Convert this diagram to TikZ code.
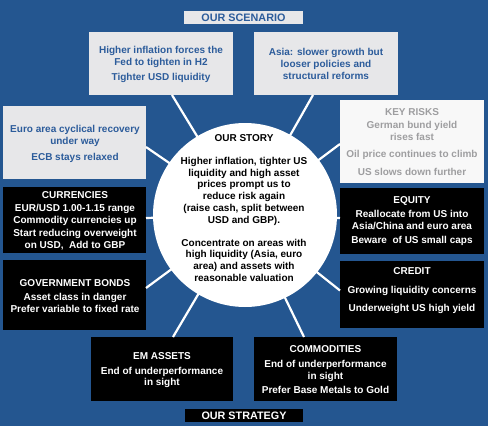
\documentclass[tikz,border=0pt]{standalone}
\usepackage{fontspec}
\setmainfont{Liberation Sans}
\usetikzlibrary{calc}
\definecolor{bg}{RGB}{36,86,144}
\definecolor{lightbox}{RGB}{231,231,233}
\definecolor{bluetxt}{RGB}{44,92,155}
\definecolor{riskfill}{RGB}{248,248,248}
\definecolor{risktxt}{RGB}{158,158,160}
\tikzset{
  boxbase/.style={rectangle, inner sep=0pt, outer sep=0pt, draw=none},
  greybox/.style={boxbase, fill=lightbox},
  riskbox/.style={boxbase, fill=riskfill},
  blackbox/.style={boxbase, fill=black},
  txt/.style={align=center, inner sep=0pt, font=\fontsize{10}{12.5}\selectfont\bfseries},
  bluet/.style={txt, text=bluetxt},
  whitet/.style={txt, text=white},
  riskt/.style={txt, text=risktxt},
  titlet/.style={align=center, inner sep=0pt, font=\fontsize{10.8}{13}\selectfont\bfseries},
  spoke/.style={draw=white, line width=2.2pt},
}
\begin{document}
\begin{tikzpicture}[x=1pt,y=-1pt]
\fill[bg] (0,0) rectangle (488,426);
\useasboundingbox (0,0) rectangle (488,426);

% boxes
\node[greybox, minimum width=144pt, minimum height=63pt] (fed) at (161,63.5) {};
\node[greybox, minimum width=144pt, minimum height=63pt] (asia) at (326,63.5) {};
\node[greybox, minimum width=143pt, minimum height=73pt] (euro) at (74.5,142.5) {};
\node[riskbox, minimum width=144pt, minimum height=83pt] (risk) at (412,141.5) {};
\node[blackbox, minimum width=143pt, minimum height=66pt] (curr) at (74.5,220) {};
\node[blackbox, minimum width=144pt, minimum height=66pt] (equity) at (412,221) {};
\node[blackbox, minimum width=143pt, minimum height=70pt] (gov) at (74.5,295) {};
\node[blackbox, minimum width=144pt, minimum height=67pt] (credit) at (412,294.5) {};
\node[blackbox, minimum width=142pt, minimum height=64pt] (em) at (162,369) {};
\node[blackbox, minimum width=143pt, minimum height=64pt] (comm) at (325.5,369) {};

% circle centre
\coordinate (c) at (245,215);

% spokes
\draw[spoke] (c) -- ($(fed.south)+(11,0)$);
\draw[spoke] (c) -- ($(asia.south)+(-13,0)$);
\draw[spoke] (c) -- ($(euro.east)+(0,4.5)$);
\draw[spoke] (c) -- ($(risk.west)+(0,2.5)$);
\draw[spoke] (c) -- ($(curr.east)+(0,-2)$);
\draw[spoke] (c) -- ($(equity.west)+(0,-3)$);
\draw[spoke] (c) -- ($(gov.east)+(0,-7)$);
\draw[spoke] (c) -- ($(credit.west)+(0,-4)$);
\draw[spoke] (c) -- ($(em.north)+(11,0)$);
\draw[spoke] (c) -- ($(comm.north)+(-21.5,0)$);

% story circle
\node[circle, fill=white, minimum size=184pt, inner sep=0pt] (story) at (c) {};

% titles
\node[greybox, minimum width=119pt, minimum height=13pt] (scen) at (243.5,17.5) {};
\node[titlet, text=bluetxt] (scent) at (scen.center) {OUR SCENARIO};
\node[blackbox, minimum width=118pt, minimum height=13pt] (strat) at (244,415.5) {};
\node[titlet, text=white] (stratt) at (strat.center) {OUR STRATEGY};

% texts
\node[bluet] (fedt) at (161,64) {Higher inflation forces the\\Fed to tighten in H2\\[2pt]Tighter USD liquidity};
\node[bluet, font=\fontsize{10}{12}\selectfont\bfseries] (asiat) at (326,64) {Asia: slower growth but\\looser policies and\\structural reforms};
\node[bluet, font=\fontsize{10}{12}\selectfont\bfseries] (eurot) at (75,144) {Euro area cyclical recovery\\under way\\[4pt]ECB stays relaxed};
\node[riskt, font=\fontsize{10}{12.3}\selectfont\bfseries] (riskt) at (412,142) {KEY RISKS\\German bund yield\\rises fast\\[5pt]Oil price continues to climb\\[5pt]US slows down further};
\node[whitet] (currt) at (75,221) {CURRENCIES\\EUR/USD 1.00-1.15 range\\Commodity currencies up\\Start reducing overweight\\on USD,\ \ Add to GBP};
\node[whitet] (equityt) at (412,221) {EQUITY\\[1.5pt]Reallocate from US into\\Asia/China and euro area\\[1.5pt]Beware\ \ of US small caps};
\node[whitet] (govt) at (75,296) {GOVERNMENT BONDS\\[1.5pt]Asset class in danger\\Prefer variable to fixed rate};
\node[whitet] (creditt) at (412,290.5) {CREDIT\\[6pt]Growing liquidity concerns\\[5.5pt]Underweight US high yield};
\node[whitet] (emt) at (162,370) {EM ASSETS\\[2.5pt]End of underperformance\\[-1pt]in sight};
\node[whitet] (commt) at (325.5,370) {COMMODITIES\\[2pt]End of underperformance\\in sight\\[1.5pt]Prefer Base Metals to Gold};
\node[txt, font=\fontsize{10}{11.8}\selectfont\bfseries, text=black] (storyt) at (244,208) {OUR STORY\\[11pt]Higher inflation, tighter US\\liquidity and high asset\\prices prompt us to\\reduce risk again\\(raise cash, split between\\USD and GBP).\\[11pt]Concentrate on areas with\\high liquidity (Asia, euro\\area) and assets with\\reasonable valuation};
\end{tikzpicture}
\end{document}
